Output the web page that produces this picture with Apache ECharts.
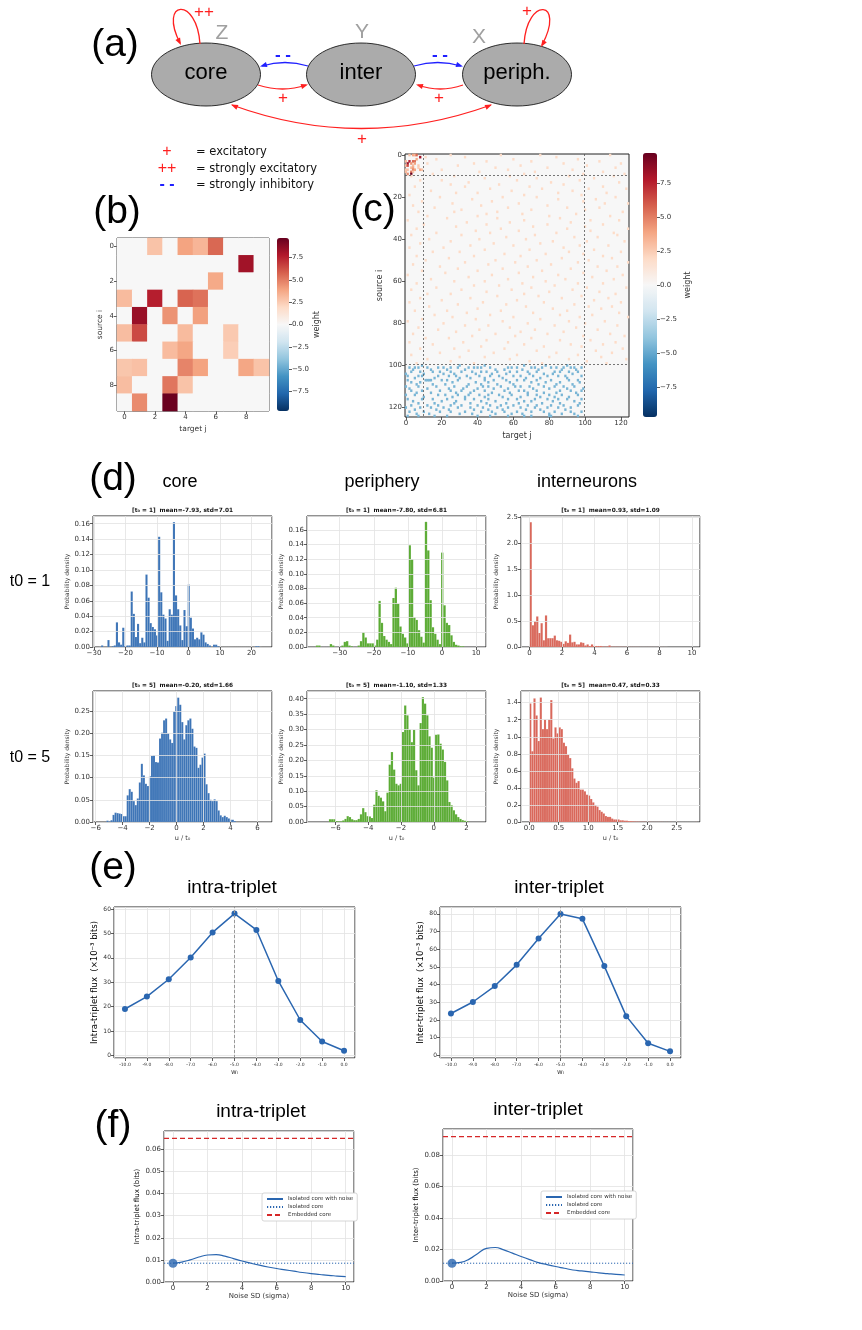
<!DOCTYPE html>
<html lang="en">
<head>
<meta charset="UTF-8">
<title>core / periphery / interneurons</title>
<script src="https://cdn.jsdelivr.net/npm/echarts@6/dist/echarts.min.js"></script>
<style>
  * { margin: 0; padding: 0; box-sizing: border-box; }
  body { background: #fff; }
  #main { width: 862px; height: 1330px; }
</style>
</head>
<body>
<div id="main"></div>
<script>
// ---------------- data ----------------
const weightRange = [-9.7, 9.7];
const weightTicks = [-7.5, -5, -2.5, 0, 2.5, 5, 7.5];

// (b) core weights, row = source i, column = target j
const coreWeights = [
  [0, 0, 2.8, 0, 3.9, 3.3, 5.6, 0, 0, 0],
  [0, 0, 0, 0, 0, 0, 0, 0, 8.2, 0],
  [0, 0, 0, 0, 0, 0, 3.7, 0, 0, 0],
  [3.1, 0, 7.6, 0, 5.7, 5.3, 0, 0, 0, 0],
  [0, 8.4, 0, 4.4, 0, 4.0, 0, 0, 0, 0],
  [3.0, 6.4, 0, 0, 3.1, 0, 0, 2.6, 0, 0],
  [0, 0, 0, 3.1, 3.8, 0, 0, 2.4, 0, 0],
  [2.7, 2.9, 0, 0, 4.8, 3.9, 0, 0, 3.8, 2.8],
  [3.0, 0, 0, 5.2, 2.8, 0, 0, 0, 0, 0],
  [0, 4.6, 0, 9.6, 0, 0, 0, 0, 0, 0]
];

// (c) full network: sparse weak excitatory links (rows 0-99) and inhibitory links (rows 100-124)
const networkSize = 125;
const blockEdges = [10, 100];
const excWeight = 1.9;
const inhWeight = -4.5;
const excDots = [
  [0, [25, 53, 75, 114]], [1, [11, 33, 84]], [2, [17, 60, 96]], [3, [45, 70, 108]], [4, [12, 38, 88, 120]],
  [5, [29, 64, 101]], [6, [50, 79, 117]], [7, [20, 57, 93]], [8, [41, 72, 110]], [9, [15, 66, 99, 122]],
  [10, [3, 27, 58, 91, 116]], [11, [44, 73, 105]], [12, [8, 20, 62, 97]], [13, [35, 81, 119]], [14, [25, 52, 88]],
  [15, [5, 33, 69, 110]], [16, [47, 76, 102, 123]], [17, [14, 59, 93]], [18, [28, 40, 85, 112]], [19, [2, 66, 98]],
  [20, [19, 54, 73, 117]], [21, [37, 85, 106]], [22, [9, 48, 99]], [23, [26, 63, 111, 124]], [24, [4, 42, 79]],
  [25, [16, 57, 90, 108]], [26, [31, 70, 100]], [27, [7, 27, 51, 121]], [28, [45, 65, 95]], [29, [12, 40, 80, 114]],
  [30, [23, 51, 86]], [31, [1, 66, 103, 119]], [32, [34, 58, 92]], [33, [10, 45, 79, 110]], [34, [28, 71, 100]],
  [35, [6, 53, 90, 124]], [36, [39, 63, 103]], [37, [17, 47, 84, 116]], [38, [3, 31, 72, 118]], [39, [56, 94, 107]],
  [40, [13, 41, 67]], [41, [25, 82, 101, 122]], [42, [8, 49, 75]], [43, [36, 60, 97, 113]], [44, [2, 21, 88]],
  [45, [44, 69, 105]], [46, [15, 30, 91, 120]], [47, [55, 78, 99]], [48, [6, 38, 64, 110]], [49, [24, 87, 115]],
  [50, [11, 50, 73, 102]], [51, [33, 61, 96, 124]], [52, [4, 46, 81]], [53, [19, 68, 107, 118]], [54, [29, 54, 92]],
  [55, [9, 40, 76, 112]], [56, [22, 63, 99]], [57, [1, 48, 85, 121]], [58, [35, 71, 104]], [59, [14, 57, 89, 116]],
  [60, [27, 44, 78]], [61, [6, 65, 96, 110]], [62, [38, 52, 83]], [63, [17, 70, 101, 123]], [64, [3, 31, 59, 93]],
  [65, [45, 80, 108]], [66, [12, 25, 66, 117]], [67, [51, 74, 98]], [68, [8, 36, 87, 113]], [69, [20, 62, 105]],
  [70, [2, 43, 77, 120]], [71, [29, 56, 94]], [72, [13, 67, 102, 115]], [73, [40, 82, 109]], [74, [5, 23, 53, 90]],
  [75, [34, 71, 119]], [76, [16, 47, 86, 104]], [77, [26, 60, 97, 124]], [78, [9, 39, 75]], [79, [1, 54, 91, 111]],
  [80, [21, 68, 100]], [81, [33, 46, 83, 118]], [82, [7, 58, 95]], [83, [18, 41, 72, 107]], [84, [28, 64, 88]],
  [85, [4, 50, 79, 114]], [86, [37, 61, 99, 122]], [87, [11, 24, 70]], [88, [45, 86, 103]], [89, [2, 32, 57, 117]],
  [90, [15, 66, 92, 110]], [91, [42, 77, 98]], [92, [8, 27, 55, 121]], [93, [35, 73, 106]], [94, [19, 49, 84, 115]],
  [95, [3, 62, 96]], [96, [30, 44, 80, 109]], [97, [12, 58, 91, 123]], [98, [25, 69, 101]], [99, [6, 38, 76, 112]]
];
const inhDots = [
  [100, [9, 30, 44, 66, 78, 90]],
  [101, [2, 5, 7, 12, 18, 21, 25, 29, 35, 38, 40, 42, 47, 57, 59, 62, 70, 72, 76, 81, 84, 88, 92, 94, 98]],
  [102, [4, 14, 23, 33, 50, 55, 65, 74, 87, 95]],
  [103, [3, 8, 15, 19, 25, 31, 37, 42, 45, 51, 58, 62, 68, 73, 83, 86, 91, 96]],
  [104, [0, 10, 21, 27, 39, 48, 56, 69, 77, 82, 93]],
  [105, [1, 7, 9, 18, 24, 28, 34, 41, 47, 52, 60, 64, 71, 79, 85, 89, 98]],
  [106, [5, 16, 30, 36, 44, 54, 67, 75, 90]],
  [107, [1, 11, 12, 13, 14, 20, 23, 29, 44, 49, 56, 62, 66, 73, 81, 91, 96]],
  [108, [3, 8, 26, 39, 46, 58, 70, 78, 86, 97]],
  [109, [6, 15, 22, 35, 42, 51, 60, 74, 84, 93]],
  [110, [0, 7, 17, 27, 34, 43, 46, 53, 61, 64, 69, 77, 83, 88, 94]],
  [111, [2, 12, 24, 32, 40, 49, 57, 71, 80, 90, 99]],
  [112, [3, 9, 19, 25, 31, 38, 44, 55, 63, 66, 73, 86, 92, 98]],
  [113, [6, 14, 28, 36, 48, 58, 68, 77, 84, 95]],
  [114, [0, 5, 18, 22, 29, 35, 41, 46, 52, 59, 68, 73, 80, 87, 96]],
  [115, [10, 26, 33, 44, 54, 64, 75, 83, 91]],
  [116, [1, 9, 15, 23, 33, 38, 46, 57, 62, 72, 79, 85, 90, 98]],
  [117, [4, 20, 28, 42, 50, 66, 70, 82, 94]],
  [118, [7, 16, 27, 36, 45, 56, 63, 76, 86, 97]],
  [119, [3, 12, 18, 25, 31, 40, 47, 53, 60, 68, 73, 81, 88, 96]],
  [120, [0, 8, 14, 21, 29, 36, 43, 51, 57, 64, 72, 79, 85, 92]],
  [121, [5, 17, 24, 38, 46, 54, 67, 75, 89]],
  [122, [2, 10, 19, 25, 33, 42, 48, 55, 62, 70, 77, 83, 92, 98]],
  [123, [6, 13, 30, 37, 50, 59, 65, 80, 87, 94]],
  [124, [1, 7, 16, 23, 40, 47, 57, 66, 70, 80, 81, 96]]
];

// (d) histograms of u / t0 (bin start, bin width, densities)
const core1Start = -28.4, core1Width = 0.67;
const core1Density = [0, 0.002, 0, 0, 0.009, 0, 0.001, 0.002, 0.032, 0.006, 0.003, 0.025, 0.001, 0.002, 0.002,
  0.072, 0.043, 0.013, 0.030, 0.005, 0.012, 0.006, 0.094, 0.064, 0.031, 0.026, 0.023, 0.015, 0.143, 0.071,
  0.042, 0.037, 0.008, 0.049, 0.042, 0.162, 0.067, 0.049, 0.028, 0.009, 0.048, 0.027, 0.081, 0.038, 0.024,
  0.010, 0.012, 0.010, 0.019, 0.016, 0.006, 0.004, 0.002, 0, 0.003, 0.003, 0.001, 0, 0, 0, 0, 0, 0, 0, 0,
  0, 0, 0, 0, 0, 0, 0, 0, 0, 0.001, 0.001, 0];
const peri1Start = -37, peri1Width = 0.68;
const peri1Density = [0.002, 0.002, 0, 0, 0, 0, 0.004, 0.002, 0, 0, 0, 0.002, 0.007, 0.008, 0.002, 0.001, 0, 0,
  0.002, 0.008, 0.020, 0.013, 0.005, 0.005, 0.005, 0.002, 0.010, 0.063, 0.033, 0.015, 0.010, 0.007, 0.004,
  0.067, 0.081, 0.059, 0.028, 0.018, 0.013, 0.005, 0.139, 0.120, 0.041, 0.037, 0.023, 0.014, 0.006, 0.171,
  0.132, 0.064, 0.027, 0.018, 0.010, 0.004, 0.129, 0.057, 0.033, 0.030, 0.016, 0.007, 0.003, 0.002, 0.001, 0.001];
const inter1Start = 0, inter1Width = 0.135;
const inter1Density = [2.41, 0.42, 0.50, 0.59, 0.27, 0.46, 0.13, 0.61, 0.17, 0.17, 0.17, 0.22, 0.13, 0.12, 0.10,
  0.06, 0.11, 0.08, 0.24, 0.09, 0.10, 0.05, 0.05, 0.09, 0.08, 0.03, 0.05, 0.02, 0.05, 0.02, 0.02, 0.02, 0.02,
  0.01, 0.006, 0.01, 0.03, 0.006, 0.005, 0.005, 0.004, 0.004, 0.003, 0.003, 0.003, 0.002, 0.002, 0.002, 0.002,
  0.002, 0.001, 0.001, 0.001, 0.001, 0.001, 0.001, 0.001, 0.001, 0.001, 0.001, 0.001, 0.001, 0.001];
const core5Start = -5.2, core5Width = 0.15;
const core5Density = [0.003, 0.001, 0.004, 0.016, 0.021, 0.020, 0.019, 0.018, 0.013, 0.013, 0.060, 0.074, 0.068,
  0.047, 0.038, 0.053, 0.089, 0.131, 0.105, 0.086, 0.081, 0.103, 0.149, 0.150, 0.135, 0.134, 0.188, 0.201,
  0.229, 0.233, 0.200, 0.186, 0.178, 0.249, 0.261, 0.280, 0.264, 0.225, 0.186, 0.218, 0.229, 0.233, 0.210,
  0.170, 0.167, 0.122, 0.129, 0.145, 0.154, 0.085, 0.065, 0.050, 0.047, 0.051, 0.047, 0.026, 0.015, 0.011,
  0.014, 0.011, 0.008, 0.005, 0.005, 0.002];
const peri5Start = -6.4, peri5Width = 0.135;
const peri5Density = [0.009, 0.009, 0.009, 0.003, 0.002, 0.002, 0.005, 0.010, 0.019, 0.016, 0.009, 0.006, 0.006,
  0.010, 0.025, 0.045, 0.032, 0.019, 0.018, 0.013, 0.056, 0.103, 0.085, 0.079, 0.067, 0.035, 0.095, 0.186,
  0.227, 0.170, 0.124, 0.119, 0.124, 0.292, 0.378, 0.346, 0.300, 0.259, 0.299, 0.168, 0.119, 0.321, 0.405,
  0.384, 0.346, 0.278, 0.241, 0.144, 0.283, 0.284, 0.254, 0.235, 0.195, 0.135, 0.065, 0.054, 0.038, 0.025,
  0.016, 0.010, 0.006, 0.004, 0.003];
const inter5Start = 0, inter5Width = 0.0356;
const inter5Density = [1.39, 0.83, 1.45, 1.25, 0.95, 1.46, 1.09, 1.20, 1.09, 1.20, 1.43, 0.98, 1.11, 1.04, 1.11,
  1.09, 0.93, 0.89, 0.79, 0.75, 0.63, 0.51, 0.46, 0.48, 0.38, 0.38, 0.36, 0.32, 0.31, 0.27, 0.23, 0.20, 0.18,
  0.14, 0.12, 0.10, 0.07, 0.06, 0.06, 0.04, 0.03, 0.03, 0.03, 0.02, 0.02, 0.015, 0.015, 0.01, 0.01, 0.008,
  0.006, 0.005, 0.004, 0.003, 0.003, 0.002, 0.002, 0.002, 0.001, 0.001, 0.001, 0.001, 0.001, 0.001, 0, 0.001,
  0, 0.001, 0, 0, 0.001, 0, 0, 0, 0, 0, 0, 0, 0, 0.001];
const histTitles = [
  '[t₀ = 1]  mean=-7.93, std=7.01', '[t₀ = 1]  mean=-7.80, std=6.81', '[t₀ = 1]  mean=0.93, std=1.09',
  '[t₀ = 5]  mean=-0.20, std=1.66', '[t₀ = 5]  mean=-1.10, std=1.33', '[t₀ = 5]  mean=0.47, std=0.33'
];

// (e) flux vs inhibitory weight
const wValues = [-10, -9, -8, -7, -6, -5, -4, -3, -2, -1, 0];
const intraFlux = [19.0, 24.1, 31.2, 40.1, 50.4, 58.1, 51.4, 30.5, 14.5, 5.7, 1.9];
const interFlux = [23.7, 30.2, 39.2, 51.2, 66.1, 80.0, 77.2, 50.5, 22.2, 6.9, 2.3];

// (f) flux vs noise SD
const noiseSD = [0, 0.5, 1, 1.5, 2, 2.5, 3, 3.5, 4, 4.5, 5, 5.5, 6, 6.5, 7, 7.5, 8, 8.5, 9, 9.5, 10];
const intraNoise = [0.0085, 0.0090, 0.0100, 0.0113, 0.0122, 0.0124, 0.0117, 0.0106, 0.0095, 0.0085, 0.0076,
  0.0068, 0.0061, 0.0055, 0.0049, 0.0043, 0.0038, 0.0034, 0.0030, 0.0027, 0.0024];
const interNoise = [0.0113, 0.0118, 0.0139, 0.0175, 0.0207, 0.0213, 0.0198, 0.0177, 0.0156, 0.0136, 0.0117,
  0.0104, 0.0092, 0.0081, 0.0070, 0.0064, 0.0058, 0.0052, 0.0047, 0.0042, 0.0038];
const intraIsolated = 0.0085, intraEmbedded = 0.065;
const interIsolated = 0.0113, interEmbedded = 0.0917;

// ---------------- styles ----------------
const RDBU = ['#053061', '#2166ac', '#4393c3', '#92c5de', '#d1e5f0', '#f7f7f7',
  '#fddbc7', '#f4a582', '#d6604d', '#b2182b', '#67001f'];
const CORE_C = '#3b73b6', PERI_C = '#5aab33', INTER_C = '#d9675a';
const LINE_C = '#2a66b0', EMB_C = '#d62728';
const RED = '#ff2020', BLUE = '#2020ff';
const ARIAL = '"Liberation Sans", Arial, sans-serif';
const DEJAVU = '"DejaVu Sans", sans-serif';

function minusFmt(dec) {
  return v => (v < 0 ? '\u2212' : '') + Math.abs(v).toFixed(dec);
}
const frame = { show: true, borderColor: '#222', borderWidth: 1 };
const noLine = { show: false, onZero: false };
const tick = { show: true, length: 3, lineStyle: { color: '#333', width: 0.8 } };
const gridLine = { show: true, lineStyle: { color: '#e2e2e2', width: 0.8 } };

// ---------------- panel (a) diagram ----------------
const graphics = [];
function text(x, y, s, size, color, font, weight, align) {
  graphics.push({
    type: 'text', x: x, y: y, silent: true,
    style: {
      text: s, font: (weight || 'normal') + ' ' + size + 'px ' + (font || ARIAL), fill: color || '#000',
      textAlign: align || 'center', textVerticalAlign: 'middle'
    }
  });
}
function head(tx, ty, fx, fy, color) {
  const a = Math.atan2(ty - fy, tx - fx), L = 7, W = 2.6;
  const bx = tx - L * Math.cos(a), by = ty - L * Math.sin(a);
  graphics.push({
    type: 'polygon', silent: true,
    shape: { points: [[tx, ty], [bx - W * Math.sin(a), by + W * Math.cos(a)], [bx + W * Math.sin(a), by - W * Math.cos(a)]] },
    style: { fill: color }
  });
}
function curve(shape, color) {
  graphics.push({ type: 'bezierCurve', silent: true, shape: shape,
    style: { stroke: color, lineWidth: 1.3, fill: 'none' } });
}
[['core', 206], ['inter', 361], ['periph.', 517]].forEach(([name, cx]) => {
  graphics.push({ type: 'ellipse', silent: true, shape: { cx: cx, cy: 74.5, rx: 54.5, ry: 31.5 },
    style: { fill: '#ababab', stroke: '#000', lineWidth: 0.8 } });
  text(cx, 73, name, 22);
});
text(222, 33, 'Z', 21, '#a0a0a0');
text(362, 32, 'Y', 21, '#a0a0a0');
text(479, 37, 'X', 21, '#a0a0a0');
// self loops
curve({ x1: 200, y1: 44, cpx1: 197, cpy1: -4, cpx2: 158, cpy2: 0, x2: 180, y2: 43 }, RED);
head(181, 45, 168, 20, RED);
curve({ x1: 524, y1: 44, cpx1: 527, cpy1: -4, cpx2: 566, cpy2: 0, x2: 542, y2: 45 }, RED);
head(541, 47, 556, 22, RED);
// inter -> core / periph (inhibitory)
curve({ x1: 308, y1: 66, cpx1: 285, cpy1: 59, x2: 262, y2: 66 }, BLUE);
head(260, 66.5, 275, 62, BLUE);
curve({ x1: 414, y1: 66, cpx1: 438, cpy1: 59, x2: 461, y2: 66 }, BLUE);
head(463, 66.5, 448, 62, BLUE);
// core -> inter, periph -> inter
curve({ x1: 258, y1: 85, cpx1: 283, cpy1: 93, x2: 306, y2: 85 }, RED);
head(308, 84.5, 293, 89, RED);
curve({ x1: 463, y1: 85, cpx1: 440, cpy1: 93, x2: 418, y2: 85 }, RED);
head(416, 84.5, 431, 89, RED);
// core <-> periph
curve({ x1: 232, y1: 105, cpx1: 361, cpy1: 152, x2: 491, y2: 105 }, RED);
head(231, 104.5, 246, 111, RED);
head(492, 104.5, 477, 111, RED);
text(204, 12, '++', 17, RED);
text(527, 11, '+', 17, RED);
text(283, 55, '- -', 17, BLUE, ARIAL, 'bold');
text(440, 55, '- -', 17, BLUE, ARIAL, 'bold');
text(283, 98, '+', 17, RED);
text(439, 98, '+', 17, RED);
text(362, 139, '+', 17, RED);
text(167, 152, '+', 16, RED);
text(167, 169, '++', 16, RED);
text(167, 185, '- -', 16, BLUE, ARIAL, 'bold');
text(196, 152, '= excitatory', 11.5, '#111', DEJAVU, 'normal', 'left');
text(196, 169, '= strongly excitatory', 11.5, '#111', DEJAVU, 'normal', 'left');
text(196, 185, '= strongly inhibitory', 11.5, '#111', DEJAVU, 'normal', 'left');

// panel letters and headings
[['(a)', 115, 45], ['(b)', 117, 212], ['(c)', 373, 210], ['(d)', 113, 479], ['(e)', 113, 868], ['(f)', 113, 1126]]
  .forEach(([s, x, y]) => text(x, y, s, 39));
text(180, 482, 'core', 18);
text(382, 482, 'periphery', 18);
text(587, 482, 'interneurons', 18);
text(30, 582, 't0 = 1', 16);
text(30, 758, 't0 = 5', 16);
text(232, 888, 'intra-triplet', 19);
text(559, 888, 'inter-triplet', 19);
text(261, 1112, 'intra-triplet', 19);
text(538, 1110, 'inter-triplet', 19);

// ---------------- grids / axes / series ----------------
const grids = [], xAxes = [], yAxes = [], series = [];
const idx = n => Array.from({ length: n }, (_, i) => String(i));

// (b) heatmap
grids.push(Object.assign({ left: 117, top: 238, width: 152, height: 173, backgroundColor: '#f7f7f7' }, frame));
xAxes.push({ type: 'category', gridIndex: 0, data: idx(10), axisLine: noLine,
  axisTick: Object.assign({ alignWithLabel: true, interval: 1 }, tick),
  axisLabel: { interval: 1, fontSize: 7, color: '#333', margin: 3 },
  name: 'target j', nameLocation: 'middle', nameGap: 14, nameTextStyle: { fontSize: 7.5, color: '#333' } });
yAxes.push({ type: 'category', gridIndex: 0, data: idx(10), inverse: true, axisLine: noLine,
  axisTick: Object.assign({ alignWithLabel: true, interval: 1 }, tick),
  axisLabel: { interval: 1, fontSize: 7, color: '#333', margin: 3 },
  name: 'source i', nameLocation: 'middle', nameGap: 13, nameTextStyle: { fontSize: 7.5, color: '#333' } });
const bData = [];
coreWeights.forEach((row, i) => row.forEach((w, j) => bData.push([j, i, w])));
series.push({ type: 'heatmap', xAxisIndex: 0, yAxisIndex: 0, data: bData, silent: true });

// colourbar ticks
function cbarAxes(g) {
  xAxes.push({ type: 'value', gridIndex: g, show: false, min: 0, max: 1 });
  yAxes.push({ type: 'value', gridIndex: g, position: 'right', min: weightRange[0], max: weightRange[1],
    axisLine: noLine, splitLine: { show: false },
    axisTick: Object.assign({ customValues: weightTicks }, tick),
    axisLabel: { customValues: weightTicks, formatter: minusFmt(1), fontSize: 7, color: '#333', margin: 3 },
    name: 'weight', nameLocation: 'middle', nameRotate: 90, nameGap: g === 1 ? 22 : 27,
    nameTextStyle: { fontSize: 8, color: '#333' } });
}
grids.push({ left: 277, top: 238, width: 12, height: 173 });
cbarAxes(1);

// (c) heatmap
grids.push(Object.assign({ left: 405, top: 154, width: 224, height: 263, backgroundColor: '#f7f7f7' }, frame));
xAxes.push({ type: 'category', gridIndex: 2, data: idx(networkSize), axisLine: noLine,
  axisTick: Object.assign({ alignWithLabel: true, interval: 19 }, tick),
  axisLabel: { interval: 19, fontSize: 7, color: '#333', margin: 3 },
  name: 'target j', nameLocation: 'middle', nameGap: 15, nameTextStyle: { fontSize: 8, color: '#333' } });
yAxes.push({ type: 'category', gridIndex: 2, data: idx(networkSize), inverse: true, axisLine: noLine,
  axisTick: Object.assign({ alignWithLabel: true, interval: 19 }, tick),
  axisLabel: { interval: 19, fontSize: 7, color: '#333', margin: 3 },
  name: 'source i', nameLocation: 'middle', nameGap: 21, nameTextStyle: { fontSize: 8, color: '#333' } });
const cData = [];
coreWeights.forEach((row, i) => row.forEach((w, j) => { if (w) cData.push([j, i, w]); }));
excDots.forEach(([i, cols]) => cols.forEach(j => cData.push([j, i, excWeight])));
inhDots.forEach(([i, cols]) => cols.forEach(j => cData.push([j, i, inhWeight])));
series.push({ type: 'heatmap', xAxisIndex: 2, yAxisIndex: 2, data: cData, silent: true });

// (c) block separators
grids.push({ left: 405, top: 154, width: 224, height: 263 });
xAxes.push({ type: 'value', gridIndex: 3, show: false, min: -0.5, max: networkSize - 0.5 });
yAxes.push({ type: 'value', gridIndex: 3, show: false, min: -0.5, max: networkSize - 0.5, inverse: true });
series.push({ type: 'line', xAxisIndex: 3, yAxisIndex: 3, data: [], silent: true,
  markLine: { symbol: 'none', silent: true, label: { show: false },
    lineStyle: { type: [2, 2], color: '#555', width: 0.8 },
    data: blockEdges.map(e => ({ xAxis: e - 0.5 })).concat(blockEdges.map(e => ({ yAxis: e - 0.5 }))) } });

// (c) colourbar ticks
grids.push({ left: 643, top: 153, width: 14, height: 264 });
cbarAxes(4);

// (d) histograms
const histLeft = [93, 307, 521], histTop = [516, 691];
const histPanels = [
  { dens: core1Density, start: core1Start, width: core1Width, color: CORE_C, x: [-30.3, 26.5], xs: 5, xd: 0, y: [0, 0.17], ys: 8, yd: 2 },
  { dens: peri1Density, start: peri1Start, width: peri1Width, color: PERI_C, x: [-39.6, 12.9], xs: 5, xd: 0, y: [0, 0.179], ys: 8, yd: 2 },
  { dens: inter1Density, start: inter1Start, width: inter1Width, color: INTER_C, x: [-0.53, 10.5], xs: 5, xd: 0, y: [0, 2.53], ys: 5, yd: 1 },
  { dens: core5Density, start: core5Start, width: core5Width, color: CORE_C, x: [-6.2, 7.08], xs: 6, xd: 0, y: [0, 0.295], ys: 5, yd: 2 },
  { dens: peri5Density, start: peri5Start, width: peri5Width, color: PERI_C, x: [-7.74, 3.19], xs: 5, xd: 0, y: [0, 0.425], ys: 9, yd: 2 },
  { dens: inter5Density, start: inter5Start, width: inter5Width, color: INTER_C, x: [-0.14, 2.895], xs: 5, xd: 1, y: [0, 1.537], ys: 8, yd: 1 }
];
histPanels.forEach((p, k) => {
  const g = grids.length;
  const left = histLeft[k % 3], top = histTop[Math.floor(k / 3)];
  grids.push(Object.assign({ left: left, top: top, width: 179, height: 131 }, frame));
  xAxes.push({ type: 'value', gridIndex: g, min: p.x[0], max: p.x[1], splitNumber: p.xs, z: 5,
    axisLine: noLine, axisTick: tick, splitLine: gridLine,
    axisLabel: { fontSize: 7, color: '#333', margin: 3, formatter: minusFmt(p.xd), showMinLabel: false, showMaxLabel: false },
    name: k >= 3 ? 'u / t₀' : '', nameLocation: 'middle', nameGap: 13, nameTextStyle: { fontSize: 6.5, color: '#333' } });
  yAxes.push({ type: 'value', gridIndex: g, min: p.y[0], max: p.y[1], splitNumber: p.ys, z: 5,
    axisLine: noLine, axisTick: tick, splitLine: gridLine,
    axisLabel: { fontSize: 7, color: '#333', margin: 3, formatter: minusFmt(p.yd), showMaxLabel: false },
    name: 'Probability density', nameLocation: 'middle', nameGap: 22, nameTextStyle: { fontSize: 6, color: '#333' } });
  series.push({
    type: 'custom', xAxisIndex: g, yAxisIndex: g, silent: true, clip: true,
    data: p.dens.map((d, i) => [p.start + i * p.width, p.start + (i + 1) * p.width, d]),
    encode: { x: [0, 1], y: 2 },
    renderItem: (params, api) => {
      const a = api.coord([api.value(0), api.value(2)]);
      const b = api.coord([api.value(1), 0]);
      return { type: 'rect', shape: { x: a[0], y: a[1], width: b[0] - a[0], height: b[1] - a[1] },
        style: { fill: p.color, stroke: 'rgba(255,255,255,0.3)', lineWidth: 0.3 } };
    }
  });
  text(left + 89.5, top - 6, histTitles[k], 5.8, '#111', DEJAVU, 'bold');
});

// (e) flux vs w_i
function fluxPanel(left, values, yr, yname) {
  const g = grids.length;
  grids.push(Object.assign({ left: left, top: 907, width: 241, height: 151 }, frame));
  xAxes.push({ type: 'value', gridIndex: g, min: wValues[0] - 0.5, max: wValues[wValues.length - 1] + 0.5,
    splitNumber: 11, axisLine: noLine, axisTick: tick, splitLine: gridLine,
    axisLabel: { fontSize: 4.5, color: '#333', margin: 4, formatter: v => v.toFixed(1), showMinLabel: false, showMaxLabel: false },
    name: 'wᵢ', nameLocation: 'middle', nameGap: 11, nameTextStyle: { fontSize: 7, color: '#333' } });
  yAxes.push({ type: 'value', gridIndex: g, min: yr[0], max: yr[1], splitNumber: 8,
    axisLine: noLine, axisTick: tick, splitLine: gridLine,
    axisLabel: { fontSize: 6, color: '#333', margin: 3, showMinLabel: false, showMaxLabel: false },
    name: yname, nameLocation: 'middle', nameGap: 14, nameTextStyle: { fontSize: 8.5, color: '#000' } });
  const peak = values.indexOf(Math.max.apply(null, values));
  series.push({ type: 'line', xAxisIndex: g, yAxisIndex: g, silent: true,
    data: wValues.map((w, i) => [w, values[i]]),
    symbol: 'circle', symbolSize: 6, lineStyle: { color: LINE_C, width: 1.5 }, itemStyle: { color: LINE_C },
    markLine: { symbol: 'none', silent: true, label: { show: false },
      lineStyle: { type: [3, 2], color: '#999', width: 1 }, data: [{ xAxis: wValues[peak] }] } });
}
fluxPanel(114, intraFlux, [-1.07, 60.8], 'Intra-triplet flux  (×10⁻³ bits)');
fluxPanel(440, interFlux, [-1.46, 83.9], 'Inter-triplet flux  (×10⁻³ bits)');

// (f) flux vs noise
const fNames = ['Isolated core with noise', 'Isolated core', 'Embedded core'];
const noiseRange = [-0.52, 10.48];
function noisePanel(left, top, h, curveVals, iso, emb, ymax, ys, yname) {
  const g = grids.length;
  grids.push(Object.assign({ left: left, top: top, width: 190, height: h }, frame));
  xAxes.push({ type: 'value', gridIndex: g, min: noiseRange[0], max: noiseRange[1], splitNumber: 5,
    axisLine: noLine, axisTick: tick, splitLine: gridLine,
    axisLabel: { fontSize: 7, color: '#333', margin: 3, showMinLabel: false, showMaxLabel: false },
    name: 'Noise SD (sigma)', nameLocation: 'middle', nameGap: 11, nameTextStyle: { fontSize: 7, color: '#333' } });
  yAxes.push({ type: 'value', gridIndex: g, min: 0, max: ymax, splitNumber: ys,
    axisLine: noLine, axisTick: tick, splitLine: gridLine,
    axisLabel: { fontSize: 7, color: '#333', margin: 3, formatter: minusFmt(2), showMaxLabel: false },
    name: yname, nameLocation: 'middle', nameGap: 23, nameTextStyle: { fontSize: 7, color: '#000' } });
  series.push({ type: 'line', name: fNames[0], xAxisIndex: g, yAxisIndex: g, silent: true, smooth: true,
    symbol: 'none', data: noiseSD.map((s, i) => [s, curveVals[i]]), lineStyle: { color: LINE_C, width: 1.2 },
    itemStyle: { color: LINE_C } });
  series.push({ type: 'line', name: fNames[1], xAxisIndex: g, yAxisIndex: g, silent: true, symbol: 'none',
    data: noiseRange.map(x => [x, iso]),
    lineStyle: { color: LINE_C, width: 1, type: [1.2, 1.8] }, itemStyle: { color: LINE_C } });
  series.push({ type: 'line', name: fNames[2], xAxisIndex: g, yAxisIndex: g, silent: true, symbol: 'none',
    data: noiseRange.map(x => [x, emb]),
    lineStyle: { color: EMB_C, width: 1.2, type: [5, 3] }, itemStyle: { color: EMB_C } });
  series.push({ type: 'scatter', xAxisIndex: g, yAxisIndex: g, silent: true, symbolSize: 9,
    data: [[noiseSD[0], curveVals[0]]], itemStyle: { color: LINE_C }, z: 4 });
}
noisePanel(164, 1131, 151, intraNoise, intraIsolated, intraEmbedded, 0.0683, 7, 'Intra-triplet flux (bits)');
noisePanel(443, 1129, 152, interNoise, interIsolated, interEmbedded, 0.0966, 5, 'Inter-triplet flux (bits)');

const legendBase = {
  data: fNames, orient: 'vertical', itemWidth: 16, itemHeight: 6, itemGap: 2, padding: [3, 4],
  itemStyle: { opacity: 0 },
  textStyle: { fontSize: 5.5, color: '#333' }, backgroundColor: '#fff', borderColor: '#ccc',
  borderWidth: 0.8, borderRadius: 2, selectedMode: false
};

const chart = echarts.init(document.getElementById('main'), null, { width: 862, height: 1330 });
chart.setOption({
  animation: false,
  backgroundColor: '#fff',
  textStyle: { fontFamily: 'DejaVu Sans' },
  grid: grids,
  xAxis: xAxes,
  yAxis: yAxes,
  visualMap: [
    { type: 'continuous', min: weightRange[0], max: weightRange[1], seriesIndex: 0, dimension: 2,
      calculable: false, inRange: { color: RDBU }, itemWidth: 12, itemHeight: 173, left: 262, top: 223 },
    { type: 'continuous', min: weightRange[0], max: weightRange[1], seriesIndex: 1, dimension: 2,
      calculable: false, inRange: { color: RDBU }, itemWidth: 14, itemHeight: 264, left: 628, top: 138 }
  ],
  legend: [
    Object.assign({ left: 262, top: 1193 }, legendBase),
    Object.assign({ left: 541, top: 1191 }, legendBase)
  ],
  graphic: graphics,
  series: series
});
</script>
</body>
</html>
